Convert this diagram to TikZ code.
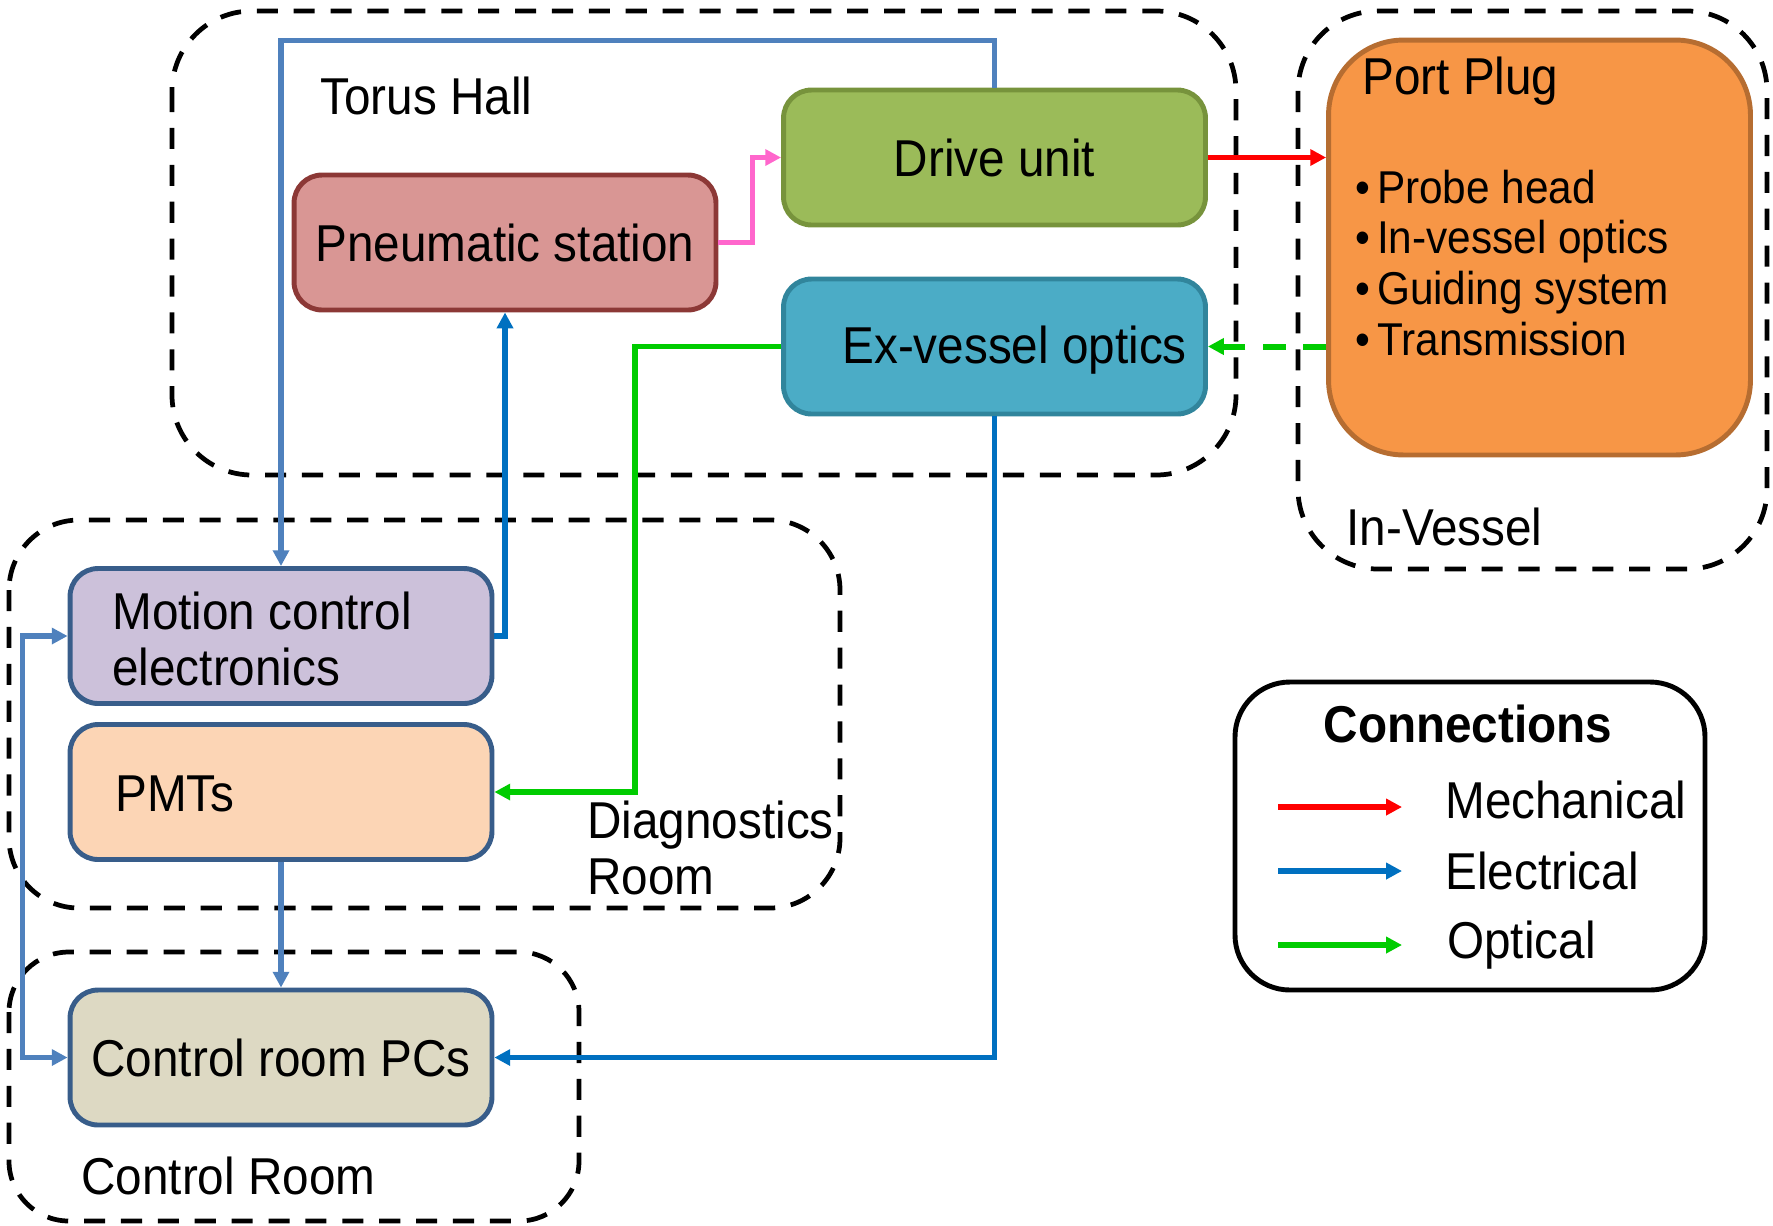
\documentclass[tikz,border=0pt]{standalone}
\usepackage{fontspec}
\setmainfont{Liberation Sans}[FakeStretch=0.92]
\usetikzlibrary{arrows.meta}
\definecolor{pneuF}{HTML}{D99694}\definecolor{pneuD}{HTML}{8C3836}
\definecolor{drvF}{HTML}{9BBB59}\definecolor{drvD}{HTML}{77933C}
\definecolor{exvF}{HTML}{4BACC6}\definecolor{exvD}{HTML}{31859C}
\definecolor{ppF}{HTML}{F79646}\definecolor{ppD}{HTML}{B66D31}
\definecolor{mceF}{HTML}{CCC1DA}\definecolor{pmtF}{HTML}{FCD5B5}
\definecolor{pcsF}{HTML}{DDD9C3}\definecolor{boxD}{HTML}{385D8A}
\definecolor{blueA}{HTML}{4F81BD}\definecolor{blueB}{HTML}{0070C0}
\definecolor{pinkC}{HTML}{FF66CC}\definecolor{redC}{HTML}{FF0000}
\definecolor{greenC}{HTML}{00CC00}
\newcommand\mainsz{\fontsize{29.5}{32}\selectfont}
\newcommand\itemsz{\fontsize{26.2}{29}\selectfont}
\newcommand\bul{•\hspace{0.15em}}
\begin{document}
\begin{tikzpicture}[x=0.02cm,y=-0.02cm,
  box/.style={draw,line width=2.8pt,rounded corners=0.56cm,minimum width=8.44cm,minimum height=2.7cm,inner sep=0pt,font=\mainsz},
  region/.style={draw,line width=2.7pt,dash pattern=on 12pt off 9pt,rounded corners=1.6cm},
  lbl/.style={inner sep=0pt,font=\mainsz,anchor=west,align=left},
  conn/.style={line width=3pt},
  hd/.style={-{Triangle[length=9pt,width=9pt,fill=#1]}},
  elecA/.style={conn,draw=blueA,hd=blueA},
  elecB/.style={conn,draw=blueB,hd=blueB},
  mechC/.style={conn,draw=redC,hd=redC},
  optC/.style={conn,draw=greenC,hd=greenC},
]
\useasboundingbox (0,0) rectangle (1773,1225);
% regions
\draw[region] (172,11) rectangle (1236,475);
\draw[region] (1298,11) rectangle (1767,569);
\draw[region,rounded corners=1.4cm] (9,520) rectangle (840,908);
\draw[region,rounded corners=1.2cm] (9,952) rectangle (579,1221);
% legend
\draw[line width=2.8pt,rounded corners=1.1cm] (1235,682) rectangle (1705,990);
% boxes
\node[box,fill=pneuF,draw=pneuD] (pneu) at (505,242.5) {Pneumatic station};
\node[box,fill=drvF,draw=drvD] (drive) at (994.5,157.5) {Drive unit};
\node[box,fill=exvF,draw=exvD] (exv) at (994.5,346.5) {};
\node[lbl] (exvt) at (842,350) {Ex-vessel optics};
\node[box,fill=ppF,draw=ppD,minimum height=8.3cm,rounded corners=1.5cm] (pp) at (1539.5,247.5) {};
\node[lbl] (ppt) at (1362,81) {Port Plug};
\node[lbl,font=\itemsz] (ppi) at (1355,263) {\bul Probe head\\\bul In-vessel optics\\\bul Guiding system\\\bul Transmission};
\node[box,fill=mceF,draw=boxD] (mce) at (281,636) {};
\node[lbl] (mcet) at (112,639) {Motion control\\electronics};
\node[box,fill=pmtF,draw=boxD] (pmt) at (281,792) {};
\node[lbl] (pmtt) at (115,794) {PMTs};
\node[box,fill=pcsF,draw=boxD] (pcs) at (281,1057.5) {Control room PCs};
% region labels
\node[lbl] (th) at (320,96) {Torus Hall};
\node[lbl] (iv) at (1346,527) {In-Vessel};
\node[lbl] (dr) at (587,848) {Diagnostics\\Room};
\node[lbl] (cr) at (81,1176) {Control Room};
% connectors
\draw[elecA] (drive.north) -- ++(0,-47) -| (mce.north);
\draw[elecB] (mce.east) -| (pneu.south);
\draw[conn,draw=pinkC,hd=pinkC] (pneu.east) -- ++(34,0) |- (drive.west);
\draw[mechC] (drive.east) -- (drive.east -| pp.west);
\draw[optC,line width=3.4pt,dash pattern=on 13pt off 10pt] (exv.east -| pp.west) -- (exv.east);
\draw[optC] (exv.west) -- ++(-146,0) |- (pmt.east);
\draw[elecB] (exv.south) |- (pcs.east);
\draw[elecA] (pmt.south) -- (pcs.north);
\draw[conn,draw=blueA,{Triangle[length=9pt,width=9pt,fill=blueA]}-{Triangle[length=9pt,width=9pt,fill=blueA]}] (mce.west) -- ++(-45,0) |- (pcs.west);
% legend content
\node[inner sep=0pt,font={\mainsz\bfseries}] (lt) at (1468,724) {Connections};
\coordinate (m1) at (1278,807); \coordinate (m2) at (1402,807);
\coordinate (e1) at (1278,871); \coordinate (e2) at (1402,871);
\coordinate (o1) at (1278,945); \coordinate (o2) at (1402,945);
\draw[mechC,line width=3.4pt] (m1) -- (m2);
\draw[elecB,line width=3.4pt] (e1) -- (e2);
\draw[optC,line width=3.4pt] (o1) -- (o2);
\node[lbl] (lm) at (1445,800) {Mechanical};
\node[lbl] (le) at (1445,871) {Electrical};
\node[lbl] (lo) at (1447,945) {Optical};
\end{tikzpicture}
\end{document}
